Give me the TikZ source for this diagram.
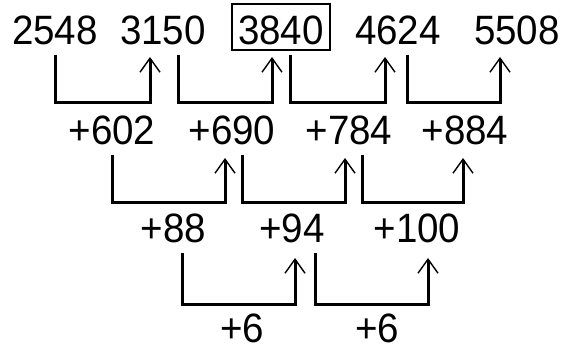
\documentclass[tikz,border=0pt]{standalone}
\usepackage{fontspec}
\setmainfont{Liberation Sans}
\newfontfamily\labfont[FakeStretch=0.94]{Liberation Sans}
\usetikzlibrary{arrows.meta,calc}
\begin{document}
\begin{tikzpicture}[x=1pt,y=-1pt,
  lab/.style={anchor=base, inner sep=0pt, font=\labfont\fontsize{41}{41}\selectfont},
  link/.style={line width=3pt, line join=miter,
    -{Straight Barb[length=14pt,width=20pt,line width=1.4pt]}},
  hilite/.style={draw, line width=1.6pt, minimum width=98pt, minimum height=46pt, inner sep=0pt}]
\useasboundingbox (0,0) rectangle (565,355);
% top row
\node[lab] (a1) at (55,45) {2548};
\node[lab] (a2) at (163,45) {3150};
\node[lab] (a3) at (281,45) {3840};
\node[lab] (a4) at (398,45) {4624};
\node[lab] (a5) at (517,45) {5508};
\node[hilite] (box) at (281,27) {};
% second row
\node[lab] (b1) at (112,145) {+602};
\node[lab] (b2) at (232,145) {+690};
\node[lab] (b3) at (349,145) {+784};
\node[lab] (b4) at (465,145) {+884};
% third row
\node[lab] (c1) at (173.5,243) {+88};
\node[lab] (c2) at (292,243) {+94};
\node[lab] (c3) at (417,243) {+100};
% fourth row
\node[lab] (d1) at (242,343) {+6};
\node[lab] (d2) at (377,343) {+6};
% connectors row 1
\draw[link] ($(a1.base)+(0,10)$) -- ++(0,48) -| ($(a2.base)+(-13,12)$);
\draw[link] ($(a2.base)+(15,10)$) -- ++(0,48) -| ($(a3.base)+(-9,12)$);
\draw[link] ($(a3.base)+(9,10)$) -- ++(0,48) -| ($(a4.base)+(-13,12)$);
\draw[link] ($(a4.base)+(9,10)$) -- ++(0,48) -| ($(a5.base)+(-17,12)$);
% connectors row 2
\draw[link] ($(b1.base)+(0,10)$) -- ++(0,48) -| ($(b2.base)+(-7,13)$);
\draw[link] ($(b2.base)+(10,10)$) -- ++(0,48) -| ($(b3.base)+(-4,13)$);
\draw[link] ($(b3.base)+(13,10)$) -- ++(0,48) -| ($(b4.base)+(-2,13)$);
% connectors row 3
\draw[link] ($(c1.base)+(8.5,10)$) -- ++(0,52) -| ($(c2.base)+(3,15)$);
\draw[link] ($(c2.base)+(23,10)$) -- ++(0,52) -| ($(c3.base)+(11,15)$);
\end{tikzpicture}
\end{document}
